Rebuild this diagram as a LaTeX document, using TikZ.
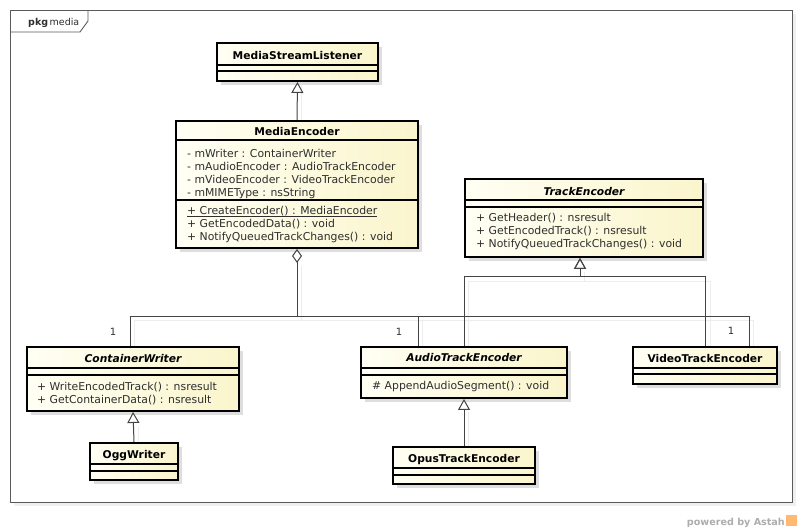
\documentclass[tikz,border=0pt]{standalone}
\usepackage{fontspec}
\setmainfont{DejaVu Sans}
\usetikzlibrary{arrows.meta,shadows,calc}
\definecolor{cl}{HTML}{FFFFF4}
\definecolor{cr}{HTML}{FAF5CC}
\definecolor{ln}{HTML}{444444}
\definecolor{tx}{HTML}{2E2E2E}
\definecolor{fr}{HTML}{5A5A5A}
\begin{document}
\begin{tikzpicture}[x=1pt,y=-1pt,
  cls/.style={draw=black, line width=1.9pt, left color=cl, right color=cr, inner sep=0pt,
    drop shadow={shadow xshift=4pt, shadow yshift=-4pt, fill=black!13, opacity=1}},
  sep/.style={draw=black, line width=1.1pt},
  txt/.style={anchor=base west, inner sep=0pt, text=tx, font=\fontsize{10.85}{13}\selectfont},
  ttl/.style={anchor=base, inner sep=0pt, text=black, font=\fontsize{10.7}{13}\selectfont\bfseries},
  attl/.style={ttl, font=\fontsize{10.7}{13}\selectfont\bfseries\itshape},
  conn/.style={draw=ln, line width=1pt},
  cshadow/.style={draw=black!7, line width=1pt, xshift=4pt, yshift=-4pt},
  gen/.style={conn, -{Triangle[open, length=11pt, width=12pt]}},
  agg/.style={conn, {Diamond[open, length=14pt, width=10pt]}-},
  mult/.style={inner sep=0pt, text=tx, font=\fontsize{10}{12}\selectfont}
]
\useasboundingbox (0,0) rectangle (800,530);
\fill[white] (0,0) rectangle (800,530);

% frame
\node[draw=fr, line width=0.9pt, fill=white, minimum width=782pt, minimum height=492pt, inner sep=0pt,
  drop shadow={shadow xshift=4pt, shadow yshift=-4pt, fill=black!6, opacity=1}] (frame) at (401,256) {};
\draw[draw=fr, line width=0.9pt] (10,32) -- (80,32) -- (88,21) -- (88,10);
\node[anchor=base west, inner sep=0pt, text=tx, font=\fontsize{9.5}{11}\selectfont] (pkg) at (28,25)
  {\textbf{pkg}\,media};

% connector shadows
\draw[cshadow] (297,81) -- (297,121);
\draw[cshadow] (297,262) -- (297,316) -| (130,347);
\draw[cshadow] (297,316) -| (418,347);
\draw[cshadow] (297,316) -| (749,347);
\draw[cshadow] (580,268) -- (580,277);
\draw[cshadow] (464,347) |- (706,277) -- (706,347);
\draw[cshadow] (134,423) -- (134,443);
\draw[cshadow] (464,408) -- (464,447);

% classes
\node[cls, minimum width=161pt, minimum height=38pt] (msl) at (297.5,62) {};
\node[cls, minimum width=242pt, minimum height=127pt] (me) at (297,184.5) {};
\node[cls, minimum width=238pt, minimum height=78pt] (te) at (584,218) {};
\node[cls, minimum width=212pt, minimum height=64pt] (cw) at (133,379) {};
\node[cls, minimum width=206pt, minimum height=51pt] (ate) at (464,372.5) {};
\node[cls, minimum width=144pt, minimum height=37pt] (vte) at (705,365.5) {};
\node[cls, minimum width=88pt, minimum height=37pt] (ogg) at (134,461.5) {};
\node[cls, minimum width=142pt, minimum height=37pt] (ote) at (464,465.5) {};

% compartments
\draw[sep] (msl.west |- 0,65) -- (msl.east |- 0,65);
\draw[sep] (msl.west |- 0,71) -- (msl.east |- 0,71);
\draw[sep] (me.west |- 0,140) -- (me.east |- 0,140);
\draw[sep] (me.west |- 0,200) -- (me.east |- 0,200);
\draw[sep] (te.west |- 0,200) -- (te.east |- 0,200);
\draw[sep] (te.west |- 0,207) -- (te.east |- 0,207);
\draw[sep] (cw.west |- 0,368) -- (cw.east |- 0,368);
\draw[sep] (cw.west |- 0,375) -- (cw.east |- 0,375);
\draw[sep] (ate.west |- 0,368) -- (ate.east |- 0,368);
\draw[sep] (ate.west |- 0,375) -- (ate.east |- 0,375);
\draw[sep] (vte.west |- 0,368) -- (vte.east |- 0,368);
\draw[sep] (vte.west |- 0,374) -- (vte.east |- 0,374);
\draw[sep] (ogg.west |- 0,464) -- (ogg.east |- 0,464);
\draw[sep] (ogg.west |- 0,471) -- (ogg.east |- 0,471);
\draw[sep] (ote.west |- 0,468) -- (ote.east |- 0,468);
\draw[sep] (ote.west |- 0,475) -- (ote.east |- 0,475);

% texts
\node[ttl] (msl-t) at (297.5,59) {MediaStreamListener};

\node[ttl] (me-t) at (297,135.5) {MediaEncoder};
\node[txt] (me-a1) at (187,157) {- mWriter : ContainerWriter};
\node[txt] (me-a2) at (187,170) {- mAudioEncoder : AudioTrackEncoder};
\node[txt] (me-a3) at (187,183) {- mVideoEncoder : VideoTrackEncoder};
\node[txt] (me-a4) at (187,196) {- mMIMEType : nsString};
\node[txt] (me-o1) at (187,214.5) {+ CreateEncoder() : MediaEncoder};
\node[txt] (me-o2) at (187,227.5) {+ GetEncodedData() : void};
\node[txt] (me-o3) at (187,240.5) {+ NotifyQueuedTrackChanges() : void};
\draw[draw=tx, line width=0.7pt] ([yshift=-2pt]me-o1.base west) -- ([yshift=-2pt]me-o1.base east);

\node[attl] (te-t) at (584,195) {TrackEncoder};
\node[txt] (te-o1) at (476,221.5) {+ GetHeader() : nsresult};
\node[txt] (te-o2) at (476,234.5) {+ GetEncodedTrack() : nsresult};
\node[txt] (te-o3) at (476,247.5) {+ NotifyQueuedTrackChanges() : void};

\node[attl] (cw-t) at (133,362) {ContainerWriter};
\node[txt] (cw-o1) at (37,390) {+ WriteEncodedTrack() : nsresult};
\node[txt] (cw-o2) at (37,403) {+ GetContainerData() : nsresult};

\node[attl] (ate-t) at (464,361.5) {AudioTrackEncoder};
\node[txt] (ate-o1) at (372,389) {\# AppendAudioSegment() : void};

\node[ttl] (vte-t) at (705,362) {VideoTrackEncoder};
\node[ttl] (ogg-t) at (134,458) {OggWriter};
\node[ttl] (ote-t) at (464,462) {OpusTrackEncoder};

% connectors
\draw[gen] (me.north) -- (msl.south);
\coordinate (aggb) at ([yshift=-14pt]me.south);
\draw[agg] (me.south) -- ++(0,68) -| ([xshift=-3pt]cw.north);
\draw[conn] (aggb) -- ++(0,54) -| ([xshift=-46pt]ate.north);
\draw[conn] (aggb) -- ++(0,54) -| ([xshift=44pt]vte.north);
\draw[gen] (ate.north) -- ++(0,-70) -| ([xshift=-4pt]te.south);
\draw[gen] (vte.north) -- ++(0,-70) -| ([xshift=-4pt]te.south);
\draw[gen] (ogg.north) -- (cw.south);
\draw[gen] (ote.north) -- (ate.south);

% multiplicities
\node[mult] (m1) at (113,332) {1};
\node[mult] (m2) at (399,332) {1};
\node[mult] (m3) at (731,331) {1};

% footer
\node[anchor=base east, inner sep=0pt, text=black!32, font=\fontsize{9.6}{11}\selectfont\bfseries] (pw) at (785,525) {powered by Astah};
\node[fill=orange!55, inner sep=0pt, minimum width=11pt, minimum height=11pt] (logo) at (791,520) {};
\end{tikzpicture}
\end{document}
